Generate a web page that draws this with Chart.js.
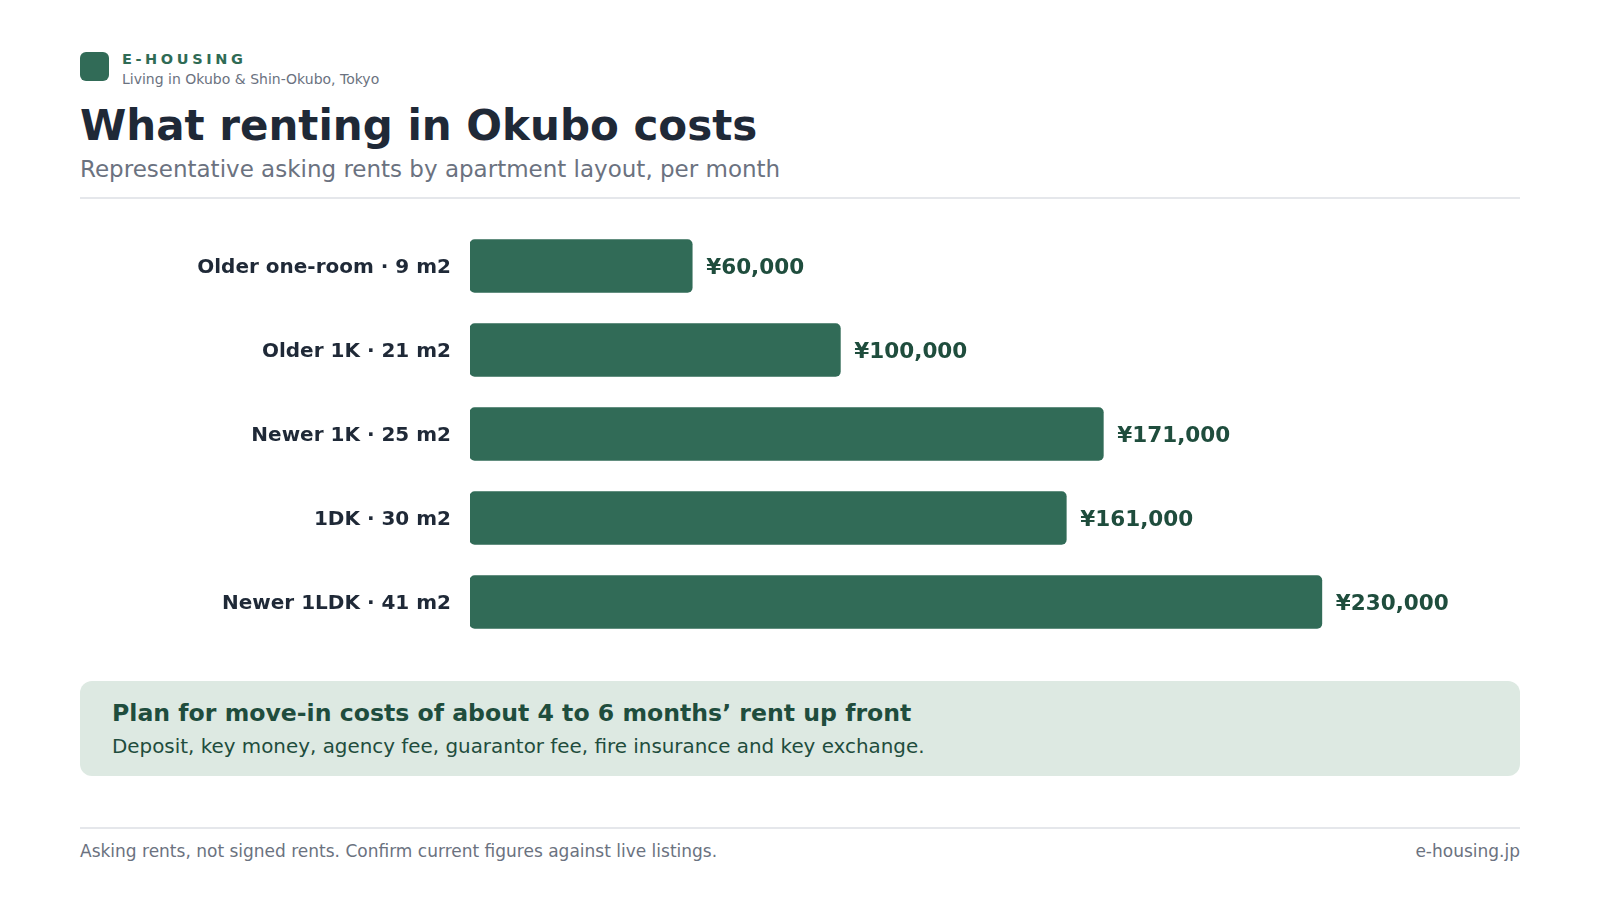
<!DOCTYPE html>
<html>
<head>
<meta charset="utf-8">
<script src="https://cdn.jsdelivr.net/npm/chart.js@4"></script>
<style>
  body { margin: 0; background: #fff; font-family: "DejaVu Sans", sans-serif; }
  .page { position: relative; width: 1600px; height: 900px; }
  .logo { position: absolute; left: 80px; top: 52px; width: 29px; height: 29px; border-radius: 6px; background: #316b57; }
  .brand { position: absolute; left: 122px; top: 51px; font-size: 14.5px; font-weight: bold; letter-spacing: 3.6px; color: #2f6b55; }
  .tag { position: absolute; left: 122px; top: 71px; font-size: 14px; color: #6b7280; }
  h1 { position: absolute; left: 80px; top: 101px; margin: 0; font-size: 42px; color: #1f2937; }
  .sub { position: absolute; left: 80px; top: 156px; font-size: 23px; color: #6b7280; }
  .rule { position: absolute; left: 80px; width: 1440px; height: 2px; background: #e5e7eb; }
  .chart-box { position: absolute; left: 80px; top: 224px; width: 1440px; height: 420px; }
  .callout { position: absolute; left: 80px; top: 681px; width: 1440px; height: 95px; border-radius: 12px; background: #dde9e2; }
  .callout .h { position: absolute; left: 32px; top: 18px; font-size: 23.6px; font-weight: bold; color: #1f4d3d; }
  .callout .p { position: absolute; left: 32px; top: 54px; font-size: 19.9px; color: #1f4d3d; }
  .foot { position: absolute; top: 841px; font-size: 17px; color: #6b7280; }
</style>
</head>
<body>
<div class="page">
  <div class="logo"></div>
  <div class="brand">E-HOUSING</div>
  <div class="tag">Living in Okubo &amp; Shin-Okubo, Tokyo</div>
  <h1>What renting in Okubo costs</h1>
  <div class="sub">Representative asking rents by apartment layout, per month</div>
  <div class="rule" style="top:197px"></div>
  <div class="chart-box"><canvas id="rents" width="1440" height="420"></canvas></div>
  <div class="callout">
    <div class="h">Plan for move-in costs of about 4 to 6 months’ rent up front</div>
    <div class="p">Deposit, key money, agency fee, guarantor fee, fire insurance and key exchange.</div>
  </div>
  <div class="rule" style="top:827px"></div>
  <div class="foot" style="left:80px">Asking rents, not signed rents. Confirm current figures against live listings.</div>
  <div class="foot" style="right:80px">e-housing.jp</div>
</div>
<script>
const layouts = ['Older one-room · 9 m2', 'Older 1K · 21 m2', 'Newer 1K · 25 m2', '1DK · 30 m2', 'Newer 1LDK · 41 m2'];
const rents = [60000, 100000, 171000, 161000, 230000];
const xMax = 283500;

const valueLabels = {
  id: 'valueLabels',
  afterDatasetsDraw(chart) {
    const ctx = chart.ctx;
    const meta = chart.getDatasetMeta(0);
    ctx.save();
    ctx.font = 'bold 21.5px "DejaVu Sans"';
    ctx.fillStyle = '#1f4d3d';
    ctx.textAlign = 'left';
    ctx.textBaseline = 'middle';
    meta.data.forEach((bar, i) => {
      ctx.fillText('¥' + rents[i].toLocaleString('en-US'), bar.x + 14, bar.y + 2);
    });
    ctx.restore();
  }
};

new Chart(document.getElementById('rents').getContext('2d'), {
  type: 'bar',
  data: {
    labels: layouts,
    datasets: [{
      data: rents,
      backgroundColor: '#316b57',
      borderRadius: 5,
      borderSkipped: false,
      barThickness: 53
    }]
  },
  options: {
    indexAxis: 'y',
    responsive: false,
    animation: false,
    layout: { padding: 0 },
    plugins: { legend: { display: false }, tooltip: { enabled: false } },
    scales: {
      x: { display: false, min: 0, max: xMax },
      y: {
        grid: { display: false },
        border: { display: false },
        afterFit(scale) {
          scale.width = 390;
          // let the bands fill the full box height
          scale.paddingTop = 0;
          scale.paddingBottom = 0;
        },
        ticks: {
          padding: 11,
          labelOffset: 2,
          color: '#1f2937',
          font: { family: 'DejaVu Sans', size: 20, weight: 'bold' }
        }
      }
    }
  },
  plugins: [valueLabels]
});
</script>
</body>
</html>
